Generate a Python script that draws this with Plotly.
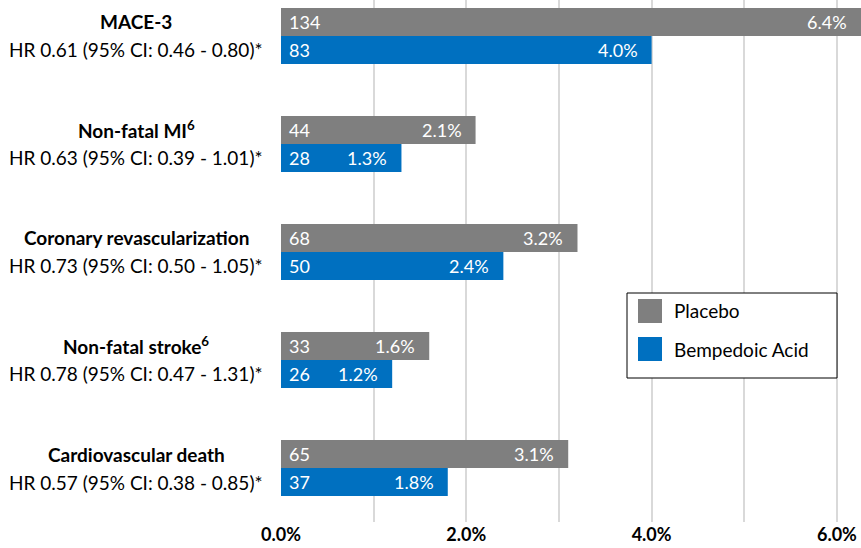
import plotly.graph_objects as go

# Event data per endpoint
endpoints = ["MACE-3", "Non-fatal MI<sup>6</sup>", "Coronary revascularization",
             "Non-fatal stroke<sup>6</sup>", "Cardiovascular death"]
hazard_ratios = ["HR 0.61 (95% CI: 0.46 - 0.80)*", "HR 0.63 (95% CI: 0.39 - 1.01)*",
                 "HR 0.73 (95% CI: 0.50 - 1.05)*", "HR 0.78 (95% CI: 0.47 - 1.31)*",
                 "HR 0.57 (95% CI: 0.38 - 0.85)*"]
placebo_n = [134, 44, 68, 33, 65]
placebo_pct = [6.4, 2.1, 3.2, 1.6, 3.1]
bempedoic_n = [83, 28, 50, 26, 37]
bempedoic_pct = [4.0, 1.3, 2.4, 1.2, 1.8]
series_names = ["Placebo", "Bempedoic Acid"]
series_colors = ["#7f7f7f", "#0070c0"]
x_ticks = [0, 2, 4, 6]

FONT = "Lato"
W, H = 861, 548
ML, MR, MT, MB = 281, 0, 0, 26
X_MAX = 6.26
BAR_W = 0.26

pw, ph = W - ML - MR, H - MT - MB
def px_x(p):
    return (p - ML) / pw
def px_y(p):
    return (H - MB - p) / ph

ypos = list(range(len(endpoints)))
fig = go.Figure()
series = [(placebo_n, placebo_pct, -BAR_W), (bempedoic_n, bempedoic_pct, 0.0)]
for (counts, pcts, off), name, color in zip(series, series_names, series_colors):
    fig.add_trace(go.Bar(
        y=ypos, x=pcts, orientation="h", name=name,
        marker=dict(color=color, line=dict(width=0)),
        width=BAR_W, offset=off, showlegend=False, hoverinfo="skip",
    ))

annotations = []
for (counts, pcts, off), name in zip(series, series_names):
    for i, (c, p) in enumerate(zip(counts, pcts)):
        yc = i + off + BAR_W / 2
        annotations.append(dict(x=0, y=yc, xref="x", yref="y", text=str(c),
                                showarrow=False, xanchor="left", xshift=6,
                                font=dict(family=FONT, size=18, color="white")))
        annotations.append(dict(x=min(p, X_MAX), y=yc, xref="x", yref="y",
                                text=f"{p:.1f}%", showarrow=False, xanchor="right",
                                xshift=-12,
                                font=dict(family=FONT, size=18, color="white")))

# Category labels on the left
for i, (name, hr) in enumerate(zip(endpoints, hazard_ratios)):
    annotations.append(dict(x=0, y=i, xref="paper", yref="y", text=f"<b>{name}</b>",
                            showarrow=False, xanchor="center", xshift=-145, yshift=14,
                            font=dict(family=FONT, size=19, color="black")))
    annotations.append(dict(x=0, y=i, xref="paper", yref="y", text=hr,
                            showarrow=False, xanchor="center", xshift=-145, yshift=-14,
                            font=dict(family=FONT, size=19, color="black")))

# Legend box
shapes = [dict(type="rect", xref="paper", yref="paper",
               x0=px_x(627), x1=px_x(837), y0=px_y(378), y1=px_y(293),
               line=dict(color="black", width=1), fillcolor="white", layer="above")]
for k, (name, color) in enumerate(zip(series_names, series_colors)):
    top = 299 + k * 38
    shapes.append(dict(type="rect", xref="paper", yref="paper",
                       x0=px_x(638), x1=px_x(662), y0=px_y(top + 24), y1=px_y(top),
                       line=dict(color=color, width=0), fillcolor=color, layer="above"))
    annotations.append(dict(x=px_x(672), y=px_y(top + 12), xref="paper", yref="paper",
                            text=name, showarrow=False, xanchor="left", yanchor="middle",
                            font=dict(family=FONT, size=19, color="black")))

fig.update_layout(
    width=W, height=H,
    margin=dict(l=ML, r=MR, t=MT, b=MB),
    plot_bgcolor="white", paper_bgcolor="white",
    showlegend=False,
    xaxis=dict(range=[0, X_MAX], tickvals=x_ticks,
               ticktext=[f"<b>{v:.1f}%</b>" for v in x_ticks],
               tickfont=dict(family=FONT, size=18, color="black"),
               showgrid=True, gridcolor="#d9d9d9", gridwidth=2,
               minor=dict(dtick=1, showgrid=True, gridcolor="#d9d9d9", gridwidth=2),
               zeroline=False, showline=False, ticks="", fixedrange=True),
    yaxis=dict(range=[4.5, -0.333], showticklabels=False, showgrid=False,
               zeroline=False, showline=False, fixedrange=True),
    annotations=annotations, shapes=shapes,
)

fig.write_html("out.html")
